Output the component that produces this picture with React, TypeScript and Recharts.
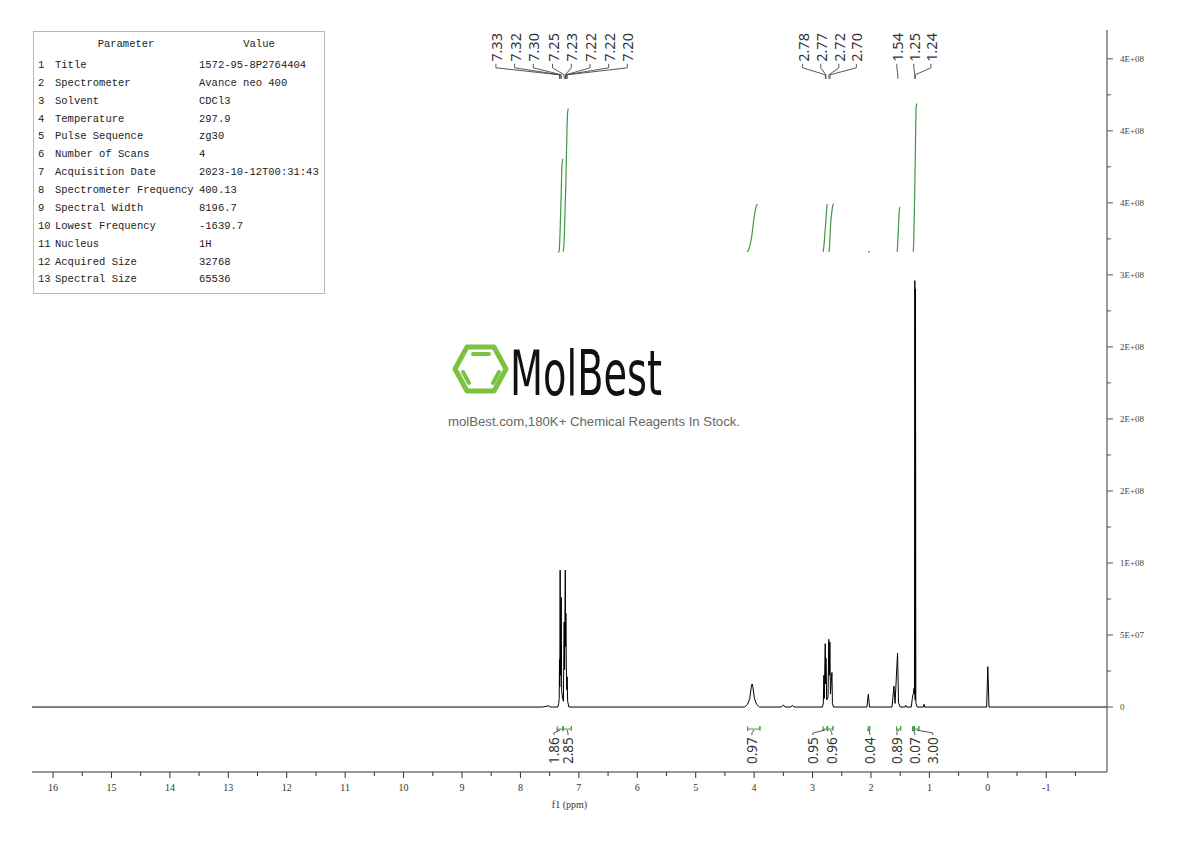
import React from 'react';
import { ComposedChart, Line, XAxis, YAxis, ReferenceDot } from 'recharts';

// 1H NMR spectrum, [ppm, intensity]
const spectrum: [number, number][] = [
  [16.36, 0], [7.62, 0], [7.52, 0.08e7], [7.48, 0], [7.36, 0],
  [7.345, 0.25e7], [7.336, 0.6e7], [7.331, 3.3e7], [7.326, 1.4e7], [7.32, 9.5e7],
  [7.313, 2.2e7], [7.302, 7.6e7], [7.294, 1.1e7], [7.278, 0.6e7], [7.264, 0.4e7],
  [7.252, 5.9e7], [7.244, 2.6e7], [7.232, 9.5e7], [7.227, 4.2e7], [7.222, 6.5e7],
  [7.215, 3.0e7], [7.206, 1.2e7], [7.2, 2.1e7], [7.192, 0.4e7], [7.17, 0],
  [4.16, 0], [4.11, 0.2e7], [4.075, 0.6e7], [4.05, 1.35e7], [4.035, 1.6e7],
  [4.02, 1.35e7], [3.995, 0.6e7], [3.96, 0.2e7], [3.91, 0],
  [3.53, 0], [3.5, 0.15e7], [3.47, 0], [3.37, 0], [3.345, 0.12e7], [3.32, 0],
  [2.83, 0], [2.815, 0.3e7], [2.806, 2.2e7], [2.799, 0.6e7], [2.783, 4.4e7],
  [2.776, 1.6e7], [2.77, 3.4e7], [2.758, 0.5e7], [2.735, 0.7e7], [2.722, 4.7e7],
  [2.714, 2.2e7], [2.703, 4.5e7], [2.694, 0.9e7], [2.668, 2.4e7], [2.66, 0.25e7], [2.64, 0],
  [2.07, 0], [2.045, 0.9e7], [2.025, 0],
  [1.64, 0], [1.607, 1.45e7], [1.588, 0.25e7], [1.545, 3.75e7], [1.528, 0.3e7], [1.5, 0],
  [1.42, 0], [1.405, 0.12e7], [1.39, 0],
  [1.31, 0], [1.292, 0.6e7], [1.284, 0.85e7], [1.272, 0.9e7], [1.263, 1.3e7],
  [1.255, 0.9e7], [1.249, 2.96e8], [1.244, 0.5e7], [1.238, 2.9e8], [1.232, 0.3e7], [1.21, 0],
  [1.1, 0], [1.09, 0.2e7], [1.08, 0],
  [0.02, 0], [0.0, 2.8e7], [-0.02, 0], [-2.04, 0],
];

// integral curves drawn above the peaks
const integralCurve1: [number, number][] = [[7.35, 3.155e8], [7.336, 3.17e8], [7.31, 3.45e8], [7.285, 3.78e8], [7.272, 3.805e8]];
const integralCurve2: [number, number][] = [[7.272, 3.16e8], [7.262, 3.175e8], [7.225, 3.6e8], [7.192, 4.13e8], [7.18, 4.155e8]];
const integralCurve3: [number, number][] = [[4.12, 3.16e8], [4.1, 3.17e8], [4.04, 3.27e8], [4.0, 3.4e8], [3.955, 3.485e8], [3.935, 3.49e8]];
const integralCurve4: [number, number][] = [[2.825, 3.16e8], [2.815, 3.17e8], [2.78, 3.33e8], [2.75, 3.485e8], [2.742, 3.49e8]];
const integralCurve5: [number, number][] = [[2.725, 3.16e8], [2.715, 3.17e8], [2.69, 3.35e8], [2.65, 3.485e8], [2.64, 3.495e8]];
const integralCurve6: [number, number][] = [[2.05, 3.16e8], [2.02, 3.162e8]];
const integralCurve7: [number, number][] = [[1.555, 3.16e8], [1.55, 3.17e8], [1.53, 3.32e8], [1.51, 3.465e8], [1.503, 3.47e8]];
const integralCurve8: [number, number][] = [[1.282, 3.16e8], [1.275, 3.17e8], [1.25, 3.6e8], [1.225, 4.17e8], [1.212, 4.19e8]];

// peak picking labels
const aromaticPeaks = [7.33, 7.32, 7.3, 7.25, 7.23, 7.22, 7.22, 7.2];
const alkylPeaks = [2.78, 2.77, 2.72, 2.7];
const methylPeaks = [1.54, 1.25, 1.24];

// integrals
const integralValues = ['1.86', '2.85', '0.97', '0.95', '0.96', '0.04', '0.89', '0.07', '3.00'];
const integralFrom = [7.37, 7.27, 4.11, 2.82, 2.74, 2.05, 1.56, 1.29, 1.255];
const integralTo = [7.27, 7.13, 3.9, 2.75, 2.65, 2.02, 1.49, 1.265, 1.18];

// axes
const xTicks = [16, 15.5, 15, 14.5, 14, 13.5, 13, 12.5, 12, 11.5, 11, 10.5, 10, 9.5, 9, 8.5, 8, 7.5, 7, 6.5, 6, 5.5, 5, 4.5, 4, 3.5, 3, 2.5, 2, 1.5, 1, 0.5, 0, -0.5, -1, -1.5];
const yTicks = [0, 5e7, 1e8, 1.5e8, 2e8, 2.5e8, 3e8, 3.5e8, 4e8, 4.5e8];
const yTickLabels = ['0', '5E+07', '1E+08', '2E+08', '2E+08', '2E+08', '3E+08', '4E+08', '4E+08', '4E+08'];
const yMinorTicks = [2.5e7, 7.5e7, 1.25e8, 1.75e8, 2.25e8, 2.75e8, 3.25e8, 3.75e8, 4.25e8];

// parameter table
const paramNames = ['Title', 'Spectrometer', 'Solvent', 'Temperature', 'Pulse Sequence', 'Number of Scans', 'Acquisition Date', 'Spectrometer Frequency', 'Spectral Width', 'Lowest Frequency', 'Nucleus', 'Acquired Size', 'Spectral Size'];
const paramValues = ['1572-95-8P2764404', 'Avance neo 400', 'CDCl3', '297.9', 'zg30', '4', '2023-10-12T00:31:43', '400.13', '8196.7', '-1639.7', '1H', '32768', '65536'];

// layout of the annotation labels (ppm where each text sits)
const aromaticLabelX = [8.42, 8.1, 7.78, 7.45, 7.13, 6.81, 6.49, 6.17];
const alkylLabelX = [3.17, 2.86, 2.55, 2.25];
const methylLabelX = [1.557, 1.266, 0.975];
const integralLabelX = [7.425, 7.186, 4.038, 2.994, 2.669, 2.019, 1.557, 1.249, 0.941];

const TOP_LABEL_Y = 4.479e8;
const LEAD_Y = [4.465e8, 4.4375e8, 4.389e8, 4.361e8];
const BOTTOM_LABEL_Y = -2.1e7;
const BRACKET_Y = [-1.32e7, -1.53e7, -1.67e7];
const X_DOMAIN: [number, number] = [-2.04, 16.36];
const Y_DOMAIN: [number, number] = [-4.51e7, 4.7e8];

const GREEN = '#3f9a3f';
const SERIF = "'Liberation Serif', 'DejaVu Serif', serif";
const SANS = "'Noto Sans', 'Open Sans', sans-serif";

const toXY = (pts: [number, number][]) => pts.map(([x, y]) => ({ x, y }));

const topLeader = (labelX: number, peak: number) => [
  { x: labelX, y: LEAD_Y[0] },
  { x: labelX, y: LEAD_Y[1] },
  { x: peak, y: LEAD_Y[2] },
  { x: peak, y: LEAD_Y[3] },
];

const VText = ({ cx, cy, text, anchor, size }: any) => (
  <text
    x={cx}
    y={cy}
    transform={`rotate(-90 ${cx} ${cy})`}
    textAnchor={anchor}
    dominantBaseline="central"
    fontSize={size}
    fontFamily={SANS}
    fill="#333"
  >
    {text}
  </text>
);

const XTick = ({ x, y, payload }: any) => {
  const v = payload.value;
  const major = Number.isInteger(v);
  return (
    <g>
      <line x1={x} x2={x} y1={y} y2={y + (major ? 6 : 4)} stroke="#333" />
      {major && (
        <text x={x} y={y + 19} textAnchor="middle" fontSize={10} fontFamily={SERIF} fill="#333">
          {String(v)}
        </text>
      )}
    </g>
  );
};

const YTick = ({ x, y, payload }: any) => {
  const idx = yTicks.indexOf(payload.value);
  const major = idx >= 0;
  return (
    <g>
      <line x1={x} x2={x + (major ? 6 : 4)} y1={y} y2={y} stroke="#555" />
      {major && (
        <text x={x + 13} y={y} dominantBaseline="central" fontSize={9} fontFamily={SERIF} fill="#444">
          {yTickLabels[idx]}
        </text>
      )}
    </g>
  );
};

function ParamTable() {
  const rowH = 17.87;
  return (
    <div
      style={{
        position: 'absolute', left: 33, top: 31, width: 292, height: 263,
        border: '1px solid #b8b8b8', boxSizing: 'border-box', background: '#fff',
        fontFamily: "'Liberation Mono', 'DejaVu Sans Mono', monospace", fontSize: 10.5, color: '#222',
      }}
    >
      <div style={{ position: 'absolute', left: 92, top: 4, width: 0, lineHeight: '16px', whiteSpace: 'nowrap' }}>
        <span style={{ position: 'absolute', transform: 'translateX(-50%)' }}>Parameter</span>
      </div>
      <div style={{ position: 'absolute', left: 225, top: 4, width: 0, lineHeight: '16px', whiteSpace: 'nowrap' }}>
        <span style={{ position: 'absolute', transform: 'translateX(-50%)' }}>Value</span>
      </div>
      {paramNames.map((name, i) => (
        <div key={name} style={{ position: 'absolute', left: 0, top: 25 + i * rowH, height: rowH, lineHeight: `${rowH}px`, whiteSpace: 'nowrap' }}>
          <span style={{ position: 'absolute', left: 4 }}>{i + 1}</span>
          <span style={{ position: 'absolute', left: 21 }}>{name}</span>
          <span style={{ position: 'absolute', left: 165 }}>{paramValues[i]}</span>
        </div>
      ))}
    </div>
  );
}

function Watermark() {
  return (
    <svg width={1190} height={841} style={{ position: 'absolute', left: 0, top: 0, pointerEvents: 'none' }}>
      <polygon
        points="455,369 467,347 494,347 506,369 494,391 467,391"
        fill="none" stroke="#7cc242" strokeWidth={5} strokeLinejoin="round"
      />
      <line x1={473} y1={354} x2={489} y2={354} stroke="#7cc242" strokeWidth={4} strokeLinecap="round" />
      <line x1={463} y1={372} x2={469} y2={383} stroke="#7cc242" strokeWidth={4} strokeLinecap="round" />
      <line x1={499} y1={372} x2={493} y2={383} stroke="#7cc242" strokeWidth={4} strokeLinecap="round" />
      <text
        x={510} y={395} fontSize={62} textLength={152} lengthAdjust="spacingAndGlyphs"
        fontFamily="'DejaVu Sans Condensed', 'DejaVu Sans', sans-serif" fill="#111"
      >
        MolBest
      </text>
      <text
        x={448} y={426} fontSize={12.5} textLength={292} lengthAdjust="spacingAndGlyphs"
        fontFamily="'Liberation Sans', Arial, sans-serif" fill="#666"
      >
        molBest.com,180K+ Chemical Reagents In Stock.
      </text>
    </svg>
  );
}

export default function App() {
  const spectrumData = toXY(spectrum);
  const curves = [integralCurve1, integralCurve2, integralCurve3, integralCurve4, integralCurve5, integralCurve6, integralCurve7, integralCurve8];

  const topLabels = [
    ...aromaticPeaks.map((p, i) => ({ p, lx: aromaticLabelX[i] })),
    ...alkylPeaks.map((p, i) => ({ p, lx: alkylLabelX[i] })),
    ...methylPeaks.map((p, i) => ({ p, lx: methylLabelX[i] })),
  ];

  const brackets = integralFrom.map((f, i) => [
    { x: f, y: BRACKET_Y[0] }, { x: f, y: BRACKET_Y[2] }, { x: f, y: BRACKET_Y[1] },
    { x: integralTo[i], y: BRACKET_Y[1] }, { x: integralTo[i], y: BRACKET_Y[0] }, { x: integralTo[i], y: BRACKET_Y[2] },
  ]);

  const bottomLeaders = integralFrom.map((f, i) => {
    const mid = (f + integralTo[i]) / 2;
    return [
      { x: integralLabelX[i], y: BOTTOM_LABEL_Y + 0.15e7 },
      { x: integralLabelX[i], y: -1.8e7 },
      { x: mid, y: -1.6e7 },
    ];
  });

  return (
    <div style={{ position: 'absolute', left: 0, top: 0, width: 1190, height: 841, background: '#fff', overflow: 'hidden' }}>
      <ComposedChart width={1190} height={841} margin={{ top: 30, right: 25, bottom: 24, left: 32 }}>
        <XAxis
          dataKey="x"
          type="number"
          domain={X_DOMAIN}
          allowDataOverflow
          reversed
          ticks={xTicks}
          interval={0}
          tick={<XTick />}
          tickLine={false}
          tickSize={0}
          tickMargin={0}
          height={45}
          stroke="#333"
          label={{ value: 'f1 (ppm)', position: 'insideBottom', offset: 9, fontSize: 10, fontFamily: SERIF, fill: '#333' }}
        />
        <YAxis
          orientation="right"
          type="number"
          domain={Y_DOMAIN}
          allowDataOverflow
          ticks={[...yTicks, ...yMinorTicks].sort((a, b) => a - b)}
          interval={0}
          tick={<YTick />}
          tickLine={false}
          tickSize={0}
          tickMargin={0}
          width={58}
          stroke="#666"
          strokeWidth={1.3}
        />
        <Line data={spectrumData} dataKey="y" type="linear" stroke="#000" strokeWidth={1} dot={false} isAnimationActive={false} />
        {curves.map((c, i) => (
          <Line key={'ic' + i} data={toXY(c)} dataKey="y" type="monotone" stroke={GREEN} strokeWidth={1.2} dot={false} isAnimationActive={false} />
        ))}
        {topLabels.map((t, i) => (
          <Line key={'tl' + i} data={topLeader(t.lx, t.p)} dataKey="y" type="linear" stroke="#444" strokeWidth={0.9} dot={false} isAnimationActive={false} />
        ))}
        {brackets.map((b, i) => (
          <Line key={'br' + i} data={b} dataKey="y" type="linear" stroke={GREEN} strokeWidth={1} dot={false} isAnimationActive={false} />
        ))}
        {bottomLeaders.map((b, i) => (
          <Line key={'bl' + i} data={b} dataKey="y" type="linear" stroke="#444" strokeWidth={0.9} dot={false} isAnimationActive={false} />
        ))}
        {topLabels.map((t, i) => (
          <ReferenceDot
            key={'tt' + i}
            x={t.lx}
            y={TOP_LABEL_Y}
            r={0}
            shape={(p: any) => <VText cx={p.cx} cy={p.cy} text={t.p.toFixed(2)} anchor="start" size={14.5} />}
          />
        ))}
        {integralValues.map((v, i) => (
          <ReferenceDot
            key={'it' + i}
            x={integralLabelX[i]}
            y={BOTTOM_LABEL_Y}
            r={0}
            shape={(p: any) => <VText cx={p.cx} cy={p.cy} text={v} anchor="end" size={13.5} />}
          />
        ))}
      </ComposedChart>
      <Watermark />
      <ParamTable />
    </div>
  );
}
